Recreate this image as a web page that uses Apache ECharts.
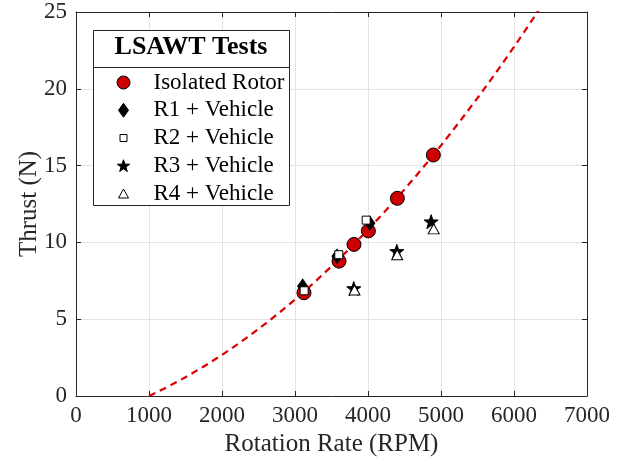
<!DOCTYPE html>
<html>
<head>
<meta charset="utf-8">
<script src="https://cdn.jsdelivr.net/npm/echarts@6/dist/echarts.min.js"></script>
<style>
  html, body { margin: 0; padding: 0; background: #fff; }
  #chart { width: 626px; height: 464px; }
</style>
</head>
<body>
<div id="chart"></div>
<script>
// Axis ranges and ticks
const xTicks = [0, 1000, 2000, 3000, 4000, 5000, 6000, 7000];
const yTicks = [0, 5, 10, 15, 20, 25];

// Isolated rotor measurements
const isoRpm    = [3123, 3603, 3808, 4005, 4402, 4895];
const isoThrust = [6.72, 8.78, 9.87, 10.75, 12.87, 15.69];

// Rotors installed on the vehicle
const r1Rpm    = [3105, 3575, 4025];
const r1Thrust = [7.15, 9.10, 11.25];
const r2Rpm    = [3125, 3600, 3975];
const r2Thrust = [6.85, 9.20, 11.45];
const r3Rpm    = [3805, 4395, 4865];
const r3Thrust = [7.00, 9.42, 11.35];
const r4Rpm    = [3815, 4400, 4900];
const r4Thrust = [6.90, 9.20, 10.88];

// Fitted thrust curve for the isolated rotor
const fitRpm    = [1000, 1250, 1500, 1750, 2000, 2250, 2500, 2750, 3000, 3250, 3500, 3750,
                   4000, 4250, 4500, 4750, 5000, 5250, 5500, 5750, 6000, 6250, 6500];
const fitThrust = [0.00, 0.58, 1.22, 1.92, 2.67, 3.49, 4.36, 5.29, 6.28, 7.33, 8.44, 9.60,
                   10.83, 12.11, 13.45, 14.85, 16.31, 17.83, 19.40, 21.03, 22.73, 24.48, 26.29];

const seriesNames = ['Isolated Rotor', 'R1 + Vehicle', 'R2 + Vehicle', 'R3 + Vehicle', 'R4 + Vehicle'];
const legendTitle = 'LSAWT Tests';

const zip = (a, b) => a.map((v, i) => [v, b[i]]);

const FONT = 'Liberation Serif';
const AXIS = '#262626';
const GRID = '#e3e3e3';
const RED = '#cc0000';
const STAR = 'path://M0,-50L11.76,-16.18L47.55,-15.45L19.02,6.18L29.39,40.45L0,20L-29.39,40.45L-19.02,6.18L-47.55,-15.45L-11.76,-16.18Z';

// Legend icons share a 32x14 frame (the leading moves fix the frame),
// with each glyph centred at x = 7 so the labels line up after it.
const LEG_FRAME = 'path://M0,0M32,14';
const legendIcons = [
  LEG_FRAME + 'M0.5,7A6.5,6.5,0,1,1,13.5,7A6.5,6.5,0,1,1,0.5,7Z',
  LEG_FRAME + 'M7,0L12,7L7,14L2,7Z',
  LEG_FRAME + 'M3.5,3.5L10.5,3.5L10.5,10.5L3.5,10.5Z',
  LEG_FRAME + 'M7,1L8.53,5.4L13.18,5.49L9.47,8.3L10.82,12.76L7,10.1L3.18,12.76L4.53,8.3L0.82,5.49L5.47,5.4Z',
  LEG_FRAME + 'M2,11.5L7,2.5L12,11.5Z'
];

const chart = echarts.init(document.getElementById('chart'), null, { renderer: 'canvas' });

const baseAxis = {
  axisLine: { show: true, onZero: false, lineStyle: { color: AXIS, width: 1 } },
  axisTick: { show: true, inside: true, length: 5, lineStyle: { color: AXIS } },
};

chart.setOption({
  backgroundColor: '#ffffff',
  animation: false,
  textStyle: { fontFamily: FONT },
  grid: { left: 76, right: 39, top: 12, bottom: 68 },
  title: {
    text: legendTitle,
    left: 191, top: 34, textAlign: 'center', padding: 0,
    textStyle: { fontFamily: FONT, fontSize: 26, fontWeight: 'bold', color: '#000' }
  },
  legend: {
    data: seriesNames.map((n, i) => ({ name: n, icon: legendIcons[i] })),
    orient: 'vertical',
    left: 116, top: 71, padding: 0,
    itemWidth: 32, itemHeight: 14, itemGap: 4.75,
    selectedMode: false,
    itemStyle: { borderWidth: 1, borderColor: '#000' },
    textStyle: { fontFamily: FONT, fontSize: 23, color: '#000', lineHeight: 22 }
  },
  // Frame and heading rule of the legend box
  graphic: [
    { type: 'rect', z: 3, shape: { x: 93.5, y: 30.5, width: 196, height: 175 },
      style: { fill: '#fff', stroke: AXIS, lineWidth: 1 } },
    { type: 'line', z: 3, shape: { x1: 93.5, y1: 67.5, x2: 289.5, y2: 67.5 },
      style: { stroke: AXIS, lineWidth: 1 } }
  ],
  xAxis: [
    Object.assign({}, baseAxis, {
      type: 'value', min: xTicks[0], max: xTicks[xTicks.length - 1], interval: 1000,
      position: 'bottom',
      name: 'Rotation Rate (RPM)', nameLocation: 'middle', nameGap: 36, nameMoveOverlap: false,
      nameTextStyle: { fontFamily: FONT, fontSize: 25, color: AXIS },
      axisLabel: { margin: 8, fontFamily: FONT, fontSize: 23, color: AXIS, formatter: v => String(v) },
      splitLine: { show: true, lineStyle: { color: GRID, width: 1 } }
    }),
    Object.assign({}, baseAxis, {
      type: 'value', min: xTicks[0], max: xTicks[xTicks.length - 1], interval: 1000,
      position: 'top', axisLabel: { show: false }, splitLine: { show: false }
    })
  ],
  yAxis: [
    Object.assign({}, baseAxis, {
      type: 'value', min: yTicks[0], max: yTicks[yTicks.length - 1], interval: 5,
      position: 'left',
      name: 'Thrust (N)', nameLocation: 'middle', nameGap: 34, nameRotate: 90, nameMoveOverlap: false,
      nameTextStyle: { fontFamily: FONT, fontSize: 25, color: AXIS },
      axisLabel: { margin: 9, fontFamily: FONT, fontSize: 23, color: AXIS, formatter: v => String(v) },
      splitLine: { show: true, lineStyle: { color: GRID, width: 1 } }
    }),
    Object.assign({}, baseAxis, {
      type: 'value', min: yTicks[0], max: yTicks[yTicks.length - 1], interval: 5,
      position: 'right', axisLabel: { show: false }, splitLine: { show: false }
    })
  ],
  series: [
    {
      name: 'fit', type: 'line', data: zip(fitRpm, fitThrust),
      showSymbol: false, symbol: 'none', clip: true, z: 2,
      lineStyle: { color: '#dd0000', width: 2.2, type: [7, 5] }
    },
    {
      name: seriesNames[0], type: 'scatter', data: zip(isoRpm, isoThrust),
      symbol: 'circle', symbolSize: 14, z: 3,
      itemStyle: { color: RED, borderColor: '#000', borderWidth: 1, opacity: 1 }
    },
    {
      name: seriesNames[1], type: 'scatter', data: zip(r1Rpm, r1Thrust),
      symbol: 'diamond', symbolSize: [10, 14], z: 3,
      itemStyle: { color: '#000', borderColor: '#000', borderWidth: 1, opacity: 1 }
    },
    {
      name: seriesNames[2], type: 'scatter', data: zip(r2Rpm, r2Thrust),
      symbol: 'rect', symbolSize: 8, z: 3,
      itemStyle: { color: '#fff', borderColor: '#000', borderWidth: 1, opacity: 1 }
    },
    {
      name: seriesNames[3], type: 'scatter', data: zip(r3Rpm, r3Thrust),
      symbol: STAR, symbolSize: 14, z: 3,
      itemStyle: { color: '#000', borderColor: '#000', borderWidth: 1, opacity: 1 }
    },
    {
      name: seriesNames[4], type: 'scatter', data: zip(r4Rpm, r4Thrust),
      symbol: 'triangle', symbolSize: [11, 10], z: 3,
      itemStyle: { color: '#fff', borderColor: '#000', borderWidth: 1, opacity: 1 }
    }
  ]
});
</script>
</body>
</html>
